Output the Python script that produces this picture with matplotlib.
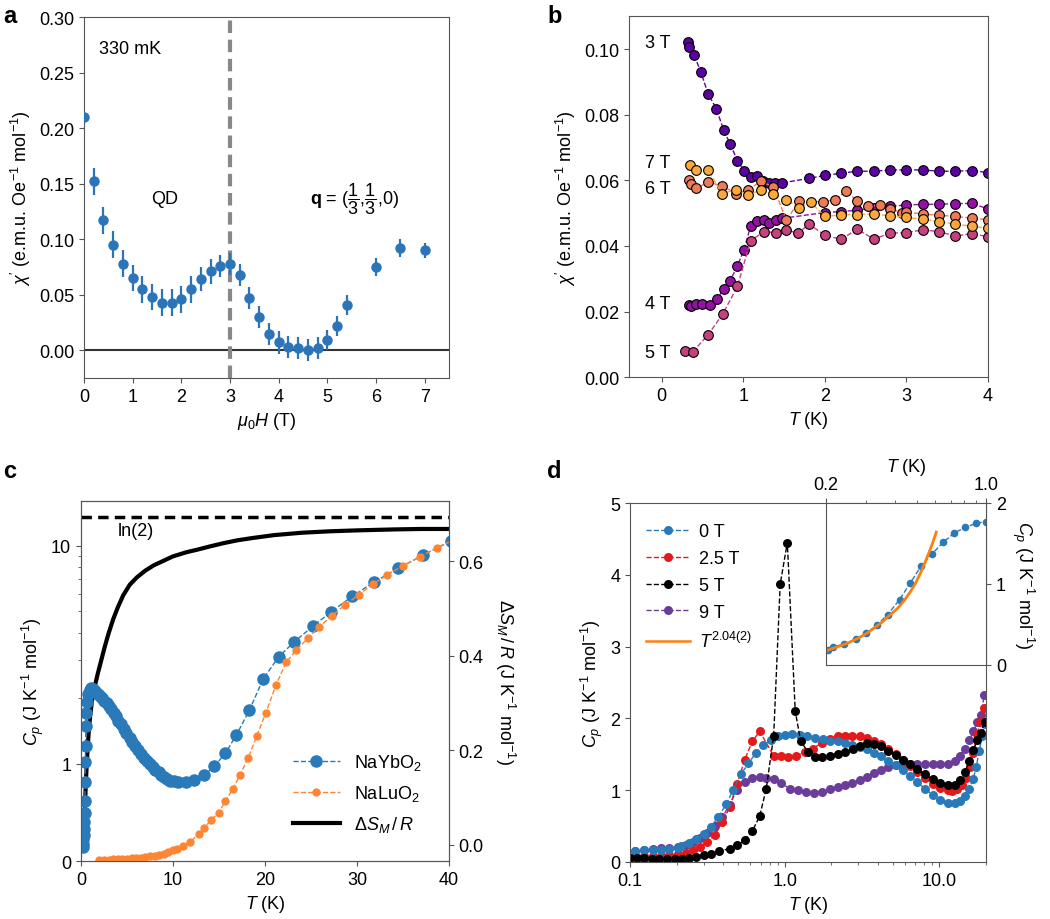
import numpy as np
import matplotlib
matplotlib.use('Agg')
import matplotlib.pyplot as plt
from matplotlib.ticker import FixedLocator, FixedFormatter, NullFormatter

plt.rcParams['font.family'] = ['Liberation Sans', 'DejaVu Sans']
plt.rcParams['mathtext.fontset'] = 'custom'
plt.rcParams['mathtext.rm'] = 'Liberation Sans'
plt.rcParams['mathtext.it'] = 'Liberation Sans:italic'
plt.rcParams['mathtext.bf'] = 'Liberation Sans:bold'
plt.rcParams['axes.edgecolor'] = '#555555'
plt.rcParams['xtick.color'] = '#555555'
plt.rcParams['ytick.color'] = '#555555'
plt.rcParams['xtick.labelcolor'] = 'black'
plt.rcParams['ytick.labelcolor'] = 'black'
plt.rcParams['font.size'] = 13

# ---- panel a : chi' vs field at 330 mK
H_a = [0, 0.2, 0.4, 0.6, 0.8, 1.0, 1.2, 1.4, 1.6, 1.8, 2.0, 2.2, 2.4, 2.6, 2.8, 3.0,
       3.2, 3.4, 3.6, 3.8, 4.0, 4.2, 4.4, 4.6, 4.8, 5.0, 5.2, 5.4, 6.0, 6.5, 7.0]
chi_a = [0.210, 0.152, 0.117, 0.095, 0.078, 0.065, 0.055, 0.048, 0.043, 0.043, 0.046,
         0.055, 0.064, 0.071, 0.076, 0.078, 0.068, 0.047, 0.030, 0.015, 0.007, 0.003,
         0.002, 0.000, 0.002, 0.009, 0.022, 0.041, 0.075, 0.092, 0.090]
err_a = [0.0, 0.012, 0.012, 0.012, 0.012, 0.012, 0.012, 0.012, 0.012, 0.012, 0.012,
         0.012, 0.011, 0.011, 0.010, 0.010, 0.010, 0.010, 0.010, 0.010, 0.010, 0.010,
         0.010, 0.010, 0.010, 0.009, 0.009, 0.009, 0.008, 0.008, 0.007]

# ---- panel b : chi' vs T at several fields
T3 = [0.32, 0.34, 0.40, 0.48, 0.57, 0.67, 0.76, 0.84, 0.93, 1.01, 1.09, 1.17, 1.24, 1.32,
      1.39, 1.47, 1.80, 2.0, 2.2, 2.4, 2.6, 2.8, 3.0, 3.2, 3.4, 3.6, 3.8, 4.0]
c3 = [0.1022, 0.1007, 0.0982, 0.0931, 0.0864, 0.0819, 0.0754, 0.0711, 0.0660, 0.0630,
      0.0611, 0.0613, 0.0599, 0.0591, 0.0591, 0.0592, 0.0606, 0.0615, 0.0622, 0.0628,
      0.0628, 0.0632, 0.0632, 0.0632, 0.0628, 0.0628, 0.0630, 0.0624]
T4 = [0.33, 0.36, 0.42, 0.49, 0.59, 0.68, 0.76, 0.84, 0.93, 1.01, 1.09, 1.17, 1.25, 1.32,
      1.40, 1.47, 2.0, 2.2, 2.4, 2.6, 2.8, 3.0, 3.2, 3.4, 3.6, 3.8, 4.0]
c4 = [0.0221, 0.0216, 0.0223, 0.0223, 0.0219, 0.0239, 0.0268, 0.0294, 0.0340, 0.0389,
      0.0460, 0.0476, 0.0479, 0.0471, 0.0479, 0.0484, 0.0502, 0.0505, 0.0509, 0.0517,
      0.0521, 0.0525, 0.0527, 0.0527, 0.0529, 0.0530, 0.0513]
T5 = [0.29, 0.38, 0.57, 0.75, 0.93, 1.09, 1.25, 1.40, 1.53, 1.67, 1.81, 2.0, 2.2, 2.4,
      2.6, 2.8, 3.0, 3.2, 3.4, 3.6, 3.8, 4.0]
c5 = [0.0079, 0.0077, 0.0129, 0.0193, 0.0277, 0.0416, 0.0443, 0.0441, 0.0449, 0.0439,
      0.0467, 0.0432, 0.0421, 0.0451, 0.0421, 0.0439, 0.0441, 0.0449, 0.0444, 0.0430,
      0.0438, 0.0428]
T6 = [0.34, 0.36, 0.42, 0.57, 0.74, 0.91, 1.06, 1.22, 1.37, 1.53, 1.68, 1.98, 2.12, 2.26,
      2.40, 2.53, 2.67, 2.80, 2.94, 3.00, 3.20, 3.40, 3.60, 3.80, 4.00]
c6 = [0.0600, 0.0590, 0.0576, 0.0594, 0.0584, 0.0560, 0.0571, 0.0598, 0.0579, 0.0478,
      0.0536, 0.0535, 0.0541, 0.0568, 0.0536, 0.0521, 0.0525, 0.0514, 0.0502, 0.0504,
      0.0497, 0.0494, 0.0490, 0.0485, 0.0480]
T7 = [0.35, 0.42, 0.57, 0.74, 0.91, 1.06, 1.22, 1.37, 1.53, 1.68, 1.83, 2.0, 2.2, 2.4,
      2.6, 2.8, 3.0, 3.2, 3.4, 3.6, 3.8, 4.0]
c7 = [0.0647, 0.0632, 0.0632, 0.0560, 0.0571, 0.0556, 0.0571, 0.0558, 0.0541, 0.0517,
      0.0533, 0.0490, 0.0495, 0.0496, 0.0497, 0.0492, 0.0487, 0.0482, 0.0474, 0.0467,
      0.0460, 0.0454]
b_labels = ['3 T', '7 T', '6 T', '4 T', '5 T']
b_label_y = [0.1022, 0.0655, 0.0574, 0.0226, 0.0076]

# ---- panel c : Cp of NaYbO2 / NaLuO2 and magnetic entropy
T_yb = [0.18, 0.22, 0.25, 0.29, 0.33, 0.36, 0.40, 0.43, 0.45, 0.47, 0.50, 0.54, 0.60,
        0.68, 0.80, 0.95, 1.10, 1.30, 1.55, 1.80, 2.02, 2.30, 2.53, 2.80, 3.00, 3.30,
        3.54, 3.80, 4.08, 4.35, 4.63, 4.95, 5.28, 5.60, 5.90, 6.20, 6.55, 6.85, 7.16,
        7.50, 7.80, 8.10, 8.43, 8.75, 9.04, 9.40, 9.70, 10.1, 10.6, 11.4, 12.3, 13.4,
        14.5, 15.7, 16.9, 18.3, 19.8, 21.5, 23.2, 25.2, 27.2, 29.5, 31.9, 34.5, 37.2, 40.2]
Cp_yb = [0.14, 0.18, 0.23, 0.27, 0.33, 0.40, 0.50, 0.62, 0.81, 1.02, 1.21, 1.50, 1.72,
         1.92, 2.10, 2.18, 2.22, 2.20, 2.16, 2.10, 2.05, 2.00, 1.95, 1.90, 1.85, 1.79,
         1.72, 1.66, 1.58, 1.52, 1.45, 1.39, 1.32, 1.26, 1.21, 1.16, 1.11, 1.07, 1.035,
         0.995, 0.966, 0.94, 0.915, 0.89, 0.863, 0.845, 0.828, 0.82, 0.812, 0.812, 0.836,
         0.887, 0.976, 1.12, 1.36, 1.76, 2.45, 3.10, 3.63, 4.27, 4.98, 5.86, 6.84, 7.87,
         9.06, 10.5]
T_lu = [2.0, 2.5, 3.0, 3.5, 4.0, 4.5, 5.0, 5.5, 6.0, 6.5, 7.0, 7.5, 8.0, 8.5, 9.0, 9.5,
        10.0, 10.4, 11.1, 11.9, 12.8, 13.4, 14.1, 15.0, 15.7, 16.5, 17.3, 18.2, 19.1,
        20.1, 21.2, 22.3, 23.4, 24.7, 25.9, 27.3, 28.7, 30.2, 31.7, 33.3, 35.0, 36.9,
        38.7, 40.5]
Cp_lu = [0.010, 0.012, 0.015, 0.017, 0.020, 0.022, 0.025, 0.028, 0.032, 0.036, 0.040,
         0.047, 0.055, 0.065, 0.077, 0.092, 0.110, 0.127, 0.16, 0.20, 0.28, 0.34, 0.42,
         0.50, 0.62, 0.74, 0.89, 1.07, 1.34, 1.72, 2.30, 2.92, 3.32, 3.78, 4.25, 4.78,
         5.35, 5.95, 6.65, 7.34, 8.10, 8.91, 9.79, 10.6]
T_S = [0.29, 0.40, 0.50, 0.60, 0.72, 0.85, 1.0, 1.2, 1.5, 1.8, 2.2, 2.6, 3.0, 3.5, 4.0,
       4.6, 5.3, 6.1, 7.0, 7.9, 9.0, 10.0, 11.5, 12.6, 14.0, 15.5, 17.0, 18.7, 21.0,
       24.0, 27.0, 30.0, 34.0, 37.0, 40.0]
S_M = [0.0, 0.065, 0.115, 0.16, 0.203, 0.24, 0.273, 0.305, 0.335, 0.36, 0.39, 0.42,
       0.447, 0.477, 0.502, 0.528, 0.55, 0.566, 0.58, 0.591, 0.601, 0.61, 0.619, 0.624,
       0.631, 0.638, 0.644, 0.649, 0.655, 0.66, 0.663, 0.665, 0.667, 0.668, 0.668]
ln2 = 0.693

# ---- panel d : Cp vs T at several fields (log T)
T0 = [0.107, 0.124, 0.140, 0.159, 0.180, 0.203, 0.215, 0.240, 0.269, 0.300, 0.333, 0.372,
      0.419, 0.466, 0.520, 0.582, 0.650, 0.728, 0.813, 0.908, 1.0, 1.12, 1.25, 1.40,
      1.57, 1.76, 1.97, 2.20, 2.45, 2.74, 3.06, 3.38, 3.77, 4.19, 4.67, 5.24, 5.84,
      6.45, 7.19, 8.08, 9.06, 10.1, 11.3, 12.6, 13.6, 14.6, 15.6, 16.5, 17.3, 18.1,
      18.9, 19.6]
Cp0 = [0.148, 0.160, 0.168, 0.172, 0.180, 0.189, 0.225, 0.258, 0.316, 0.389, 0.492,
       0.623, 0.807, 1.008, 1.221, 1.373, 1.516, 1.631, 1.70, 1.75, 1.77, 1.78, 1.77,
       1.75, 1.73, 1.71, 1.69, 1.68, 1.66, 1.63, 1.60, 1.57, 1.52, 1.47, 1.41, 1.35,
       1.28, 1.20, 1.11, 1.02, 0.93, 0.86, 0.82, 0.82, 0.85, 0.92, 1.02, 1.15, 1.32,
       1.55, 1.75, 1.92]
T25 = [0.107, 0.124, 0.140, 0.159, 0.180, 0.204, 0.229, 0.255, 0.284, 0.314, 0.352,
       0.395, 0.440, 0.491, 0.551, 0.617, 0.689, 0.848, 0.94, 1.05, 1.19, 1.35, 1.53,
       1.73, 1.96, 2.20, 2.45, 2.74, 3.06, 3.38, 3.77, 4.19, 4.67, 5.24, 5.84, 6.45,
       7.19, 8.08, 9.06, 10.1, 11.3, 12.1, 13.0, 13.9, 14.8, 15.7, 16.6, 17.5, 18.4, 19.3]
Cp25 = [0.09, 0.08, 0.085, 0.09, 0.10, 0.11, 0.13, 0.16, 0.21, 0.28, 0.37, 0.55, 0.76,
        1.08, 1.42, 1.68, 1.82, 1.48, 1.47, 1.46, 1.48, 1.53, 1.58, 1.66, 1.72, 1.75,
        1.76, 1.76, 1.75, 1.73, 1.69, 1.64, 1.57, 1.50, 1.42, 1.34, 1.26, 1.17, 1.09,
        1.03, 1.00, 0.99, 1.01, 1.07, 1.17, 1.32, 1.52, 1.78, 1.95, 2.15]
T5d = [0.100, 0.111, 0.124, 0.139, 0.155, 0.174, 0.194, 0.216, 0.240, 0.268, 0.300,
       0.335, 0.375, 0.440, 0.491, 0.551, 0.617, 0.689, 0.760, 0.849, 0.935, 1.04, 1.17,
       1.27, 1.42, 1.56, 1.73, 1.96, 2.21, 2.45, 2.77, 3.06, 3.38, 3.77, 4.19, 4.67,
       5.24, 5.84, 6.45, 7.19, 8.08, 9.06, 10.1, 11.3, 12.6, 13.6, 14.6, 15.6, 16.6,
       17.6, 18.6, 19.6]
Cp5d = [0.06, 0.055, 0.05, 0.045, 0.04, 0.04, 0.04, 0.045, 0.055, 0.07, 0.093, 0.116,
        0.148, 0.186, 0.232, 0.30, 0.427, 0.64, 1.02, 1.76, 3.87, 4.45, 2.10, 1.68,
        1.53, 1.46, 1.46, 1.48, 1.51, 1.53, 1.57, 1.62, 1.66, 1.65, 1.61, 1.55, 1.49,
        1.42, 1.36, 1.29, 1.22, 1.15, 1.10, 1.07, 1.07, 1.14, 1.26, 1.40, 1.56, 1.70,
        1.80, 1.95]
T9 = [0.107, 0.124, 0.140, 0.159, 0.180, 0.204, 0.229, 0.255, 0.284, 0.314, 0.352,
      0.395, 0.440, 0.491, 0.551, 0.617, 0.689, 0.760, 0.849, 0.950, 1.08, 1.22, 1.38,
      1.55, 1.73, 1.96, 2.20, 2.45, 2.74, 3.06, 3.38, 3.77, 4.19, 4.67, 5.24, 5.84,
      6.45, 7.19, 8.08, 9.06, 10.1, 11.3, 12.6, 13.6, 14.6, 15.6, 16.6, 17.6, 18.6, 19.5]
Cp9 = [0.15, 0.17, 0.18, 0.19, 0.20, 0.21, 0.24, 0.28, 0.33, 0.40, 0.50, 0.62, 0.80,
       1.00, 1.12, 1.17, 1.18, 1.17, 1.16, 1.10, 1.02, 1.00, 0.97, 0.96, 0.98, 1.02,
       1.04, 1.07, 1.10, 1.14, 1.19, 1.24, 1.28, 1.32, 1.35, 1.36, 1.36, 1.36, 1.36,
       1.36, 1.36, 1.36, 1.40, 1.48, 1.58, 1.70, 1.82, 1.95, 2.05, 2.33]
T_fit = [0.20, 0.225, 0.251, 0.278, 0.305, 0.35, 0.38, 0.411, 0.44, 0.466, 0.49, 0.52,
         0.54, 0.562, 0.585, 0.606]
Cp_fit = [0.176, 0.225, 0.275, 0.335, 0.40, 0.525, 0.615, 0.70, 0.80, 0.90, 1.0, 1.15,
          1.26, 1.38, 1.51, 1.64]

fig = plt.figure(figsize=(10.5, 9.2), dpi=100)

# ================= a
ax_a = fig.add_axes([0.080, 0.588, 0.3476, 0.3924])
ax_a.errorbar(H_a, chi_a, yerr=err_a, fmt='o', color='#2b74b8', ms=6.5,
              elinewidth=1.6, capsize=0, zorder=3)
ax_a.axhline(0, color='#333333', lw=1.5, zorder=1)
ax_a.axvline(3, color='#888888', lw=3, ls=(0, (3, 1.6)), zorder=2)
ax_a.set_xlim(0, 7.5)
ax_a.set_ylim(-0.025, 0.30)
ax_a.set_xticks(range(8))
ax_a.set_yticks([0, 0.05, 0.10, 0.15, 0.20, 0.25, 0.30])
ax_a.set_yticklabels(['0.00', '0.05', '0.10', '0.15', '0.20', '0.25', '0.30'])
ax_a.set_xlabel(r'$\mu_0H$ (T)', fontsize=13)
ax_a.set_ylabel(r"$\chi'$ (e.m.u. Oe$^{-1}$ mol$^{-1}$)", fontsize=13)
ax_a.text(0.31, 0.272, '330 mK', va='center', fontsize=13)
ax_a.text(1.65, 0.137, 'QD', ha='center', va='center', fontsize=13)
ax_a.text(5.55, 0.137, r'$\mathbf{q}$ = ($\dfrac{1}{3}$,$\dfrac{1}{3}$,0)',
          ha='center', va='center', fontsize=13)

# ================= b
ax_b = fig.add_axes([0.599, 0.589, 0.342, 0.392])
b_series = [(T3, c3, '#5c02a3'), (T4, c4, '#9212a3'), (T5, c5, '#c6427f'),
            (T6, c6, '#ee7a56'), (T7, c7, '#fca93a')]
for T, c, col in b_series:
    ax_b.plot(T, c, ls='--', lw=1, color=col, marker='o', ms=7, mfc=col,
              mec='black', mew=0.8)
for lab, y in zip(b_labels, b_label_y):
    ax_b.text(-0.2, y, lab, va='center', fontsize=13)
ax_b.set_xlim(-0.4, 4)
ax_b.set_ylim(0, 0.11)
ax_b.set_xticks([0, 1, 2, 3, 4])
ax_b.set_yticks([0, 0.02, 0.04, 0.06, 0.08, 0.10])
ax_b.set_yticklabels(['0.00', '0.02', '0.04', '0.06', '0.08', '0.10'])
ax_b.set_xlabel(r'$T$ (K)', fontsize=13)
ax_b.set_ylabel(r"$\chi'$ (e.m.u. Oe$^{-1}$ mol$^{-1}$)", fontsize=13)

# ================= c
ax_c = fig.add_axes([0.0771, 0.0630, 0.3505, 0.3913])
ax_c2 = ax_c.twinx()
ax_c.set_zorder(ax_c2.get_zorder() + 1)
ax_c.patch.set_visible(False)
l_yb, = ax_c.plot(T_yb, Cp_yb, ls='--', lw=1, color='#2a7ab9', marker='o', ms=8)
l_lu, = ax_c.plot(T_lu, Cp_lu, ls='--', lw=1, color='#ff8533', marker='o', ms=5)
l_S, = ax_c2.plot(T_S, S_M, color='black', lw=3)
ax_c2.axhline(ln2, color='black', lw=2.5, ls=(0, (3, 1.8)))
ax_c.set_yscale('symlog', linthresh=1, linscale=0.4)
ax_c.set_xlim(0, 40)
ax_c.set_ylim(0, 16)
ax_c.yaxis.set_major_locator(FixedLocator([0, 1, 10]))
ax_c.yaxis.set_major_formatter(FixedFormatter(['0', '1', '10']))
ax_c.yaxis.set_minor_locator(FixedLocator([2, 3, 4, 5, 6, 7, 8, 9]))
ax_c.yaxis.set_minor_formatter(NullFormatter())
ax_c.set_xticks([0, 10, 20, 30, 40])
ax_c2.set_ylim(-0.034, 0.727)
ax_c2.set_yticks([0, 0.2, 0.4, 0.6])
ax_c2.set_yticklabels(['0.0', '0.2', '0.4', '0.6'])
ax_c.set_xlabel(r'$T$ (K)', fontsize=13)
ax_c.set_ylabel(r'$C_p$ (J K$^{-1}$ mol$^{-1}$)', fontsize=13)
ax_c2.set_ylabel(r'$\Delta S_M\,/\,R$ (J K$^{-1}$ mol$^{-1}$)', fontsize=13,
                 rotation=270, labelpad=24)
ax_c2.text(3.95, 0.664, 'ln(2)', va='center', fontsize=13)
ax_c.legend([l_yb, l_lu, l_S], [r'NaYbO$_2$', r'NaLuO$_2$', r'$\Delta S_M\,/\,R$'],
            loc='lower right', bbox_to_anchor=(0.97, 0.03), frameon=False,
            fontsize=13, handlelength=2.6, labelspacing=0.6)

# ================= d
ax_d = fig.add_axes([0.600, 0.062, 0.339, 0.390])
d_series = [(T9, Cp9, '#6a3d9a', '9 T'), (T25, Cp25, '#e31a1c', '2.5 T'),
            (T0, Cp0, '#2a7ab9', '0 T'), (T5d, Cp5d, 'black', '5 T')]
handles = {}
for T, c, col, lab in d_series:
    h, = ax_d.plot(T, c, ls='--', lw=1, color=col, marker='o', ms=6.5, mew=0)
    handles[lab] = h
h_fit, = ax_d.plot([], [], color='#ff7f0e', lw=1.8)
ax_d.set_xscale('log')
ax_d.set_xlim(0.1, 20)
ax_d.set_ylim(0, 5)
ax_d.set_xticks([0.1, 1, 10])
ax_d.set_xticklabels(['0.1', '1.0', '10.0'])
ax_d.xaxis.set_minor_formatter(NullFormatter())
ax_d.set_yticks([0, 1, 2, 3, 4, 5])
ax_d.set_xlabel(r'$T$ (K)', fontsize=13)
ax_d.set_ylabel(r'$C_p$ (J K$^{-1}$ mol$^{-1}$)', fontsize=13)
ax_d.legend([handles['0 T'], handles['2.5 T'], handles['5 T'], handles['9 T'], h_fit],
            ['0 T', '2.5 T', '5 T', '9 T', r'$T^{2.04(2)}$'], loc='upper left',
            bbox_to_anchor=(0.0, 0.99), frameon=False, fontsize=13,
            handlelength=2.4, handletextpad=0.5, labelspacing=0.55)

# inset
ax_in = fig.add_axes([0.7867, 0.2761, 0.1524, 0.1761])
ax_in.plot(T0, Cp0, ls='--', lw=1, color='#2a7ab9', marker='o', ms=5.5, mew=0)
ax_in.plot(T_fit, Cp_fit, color='#ff7f0e', lw=2)
ax_in.set_xscale('log')
ax_in.set_xlim(0.2, 1.0)
ax_in.set_ylim(0, 2)
ax_in.xaxis.tick_top()
ax_in.xaxis.set_label_position('top')
ax_in.yaxis.tick_right()
ax_in.yaxis.set_label_position('right')
ax_in.set_xticks([0.2, 1.0])
ax_in.set_xticklabels(['0.2', '1.0'])
ax_in.xaxis.set_minor_formatter(NullFormatter())
ax_in.set_yticks([0, 1, 2])
ax_in.set_xlabel(r'$T$ (K)', fontsize=13)
ax_in.set_ylabel(r'$C_p$ (J K$^{-1}$ mol$^{-1}$)', fontsize=13, rotation=270,
                 labelpad=22)

for lab, x, y in [('a', 0.003, 0.995), ('b', 0.521, 0.995), ('c', 0.003, 0.500),
                  ('d', 0.521, 0.500)]:
    fig.text(x, y, lab, fontsize=17, fontweight='bold', va='top')

fig.savefig('out.png', dpi=100)
